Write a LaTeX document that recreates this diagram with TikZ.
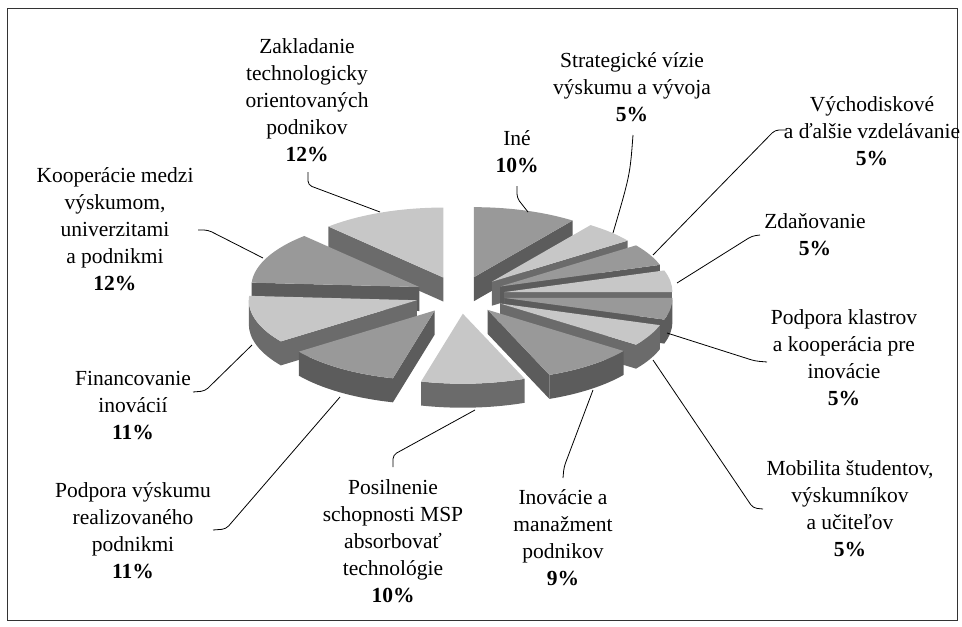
\documentclass[tikz,border=0pt]{standalone}
\usepackage{fontspec}
\setmainfont{Liberation Serif}
\definecolor{topL}{gray}{0.78}
\definecolor{topM}{gray}{0.60}
\definecolor{sideL}{gray}{0.42}
\definecolor{sideM}{gray}{0.36}
\newcommand{\lbl}[1]{\begin{tabular}[t]{@{}c@{}}#1\end{tabular}}
\newcommand{\pieslice}[4]{%
  \pgfmathsetmacro{\mymid}{(#1+#2)/2}%
  \pgfmathsetmacro{\ox}{460+45*sin(\mymid)}%
  \pgfmathsetmacro{\oy}{-295+18.75*cos(\mymid)}%
  \pgfmathsetmacro{\sa}{90-#1}%
  \pgfmathsetmacro{\sb}{90-#2}%
  \pgfmathsetmacro{\va}{max(#1,90)}%
  \pgfmathsetmacro{\vb}{min(#2,270)}%
  \pgfmathsetmacro{\sinA}{sin(#1)}%
  \pgfmathsetmacro{\sinB}{sin(#2)}%
  \ifdim \va pt < \vb pt
    \fill[#4] ({\ox+168*sin(\va)},{\oy+70*cos(\va)})
      arc[start angle={90-\va}, end angle={90-\vb}, x radius=168, y radius=70]
      -- ++(0,-24)
      arc[start angle={90-\vb}, end angle={90-\va}, x radius=168, y radius=70]
      -- cycle;
  \fi
  \ifdim \sinA pt < -0.001pt
    \fill[#4] (\ox,\oy) -- ({\ox+168*sin(#1)},{\oy+70*cos(#1)}) -- ++(0,-24)
      -- ({\ox},{\oy-24}) -- cycle;
  \fi
  \ifdim \sinB pt > 0.001pt
    \fill[#4] (\ox,\oy) -- ({\ox+168*sin(#2)},{\oy+70*cos(#2)}) -- ++(0,-24)
      -- ({\ox},{\oy-24}) -- cycle;
  \fi
  \fill[#3] (\ox,\oy) -- ({\ox+168*sin(#1)},{\oy+70*cos(#1)})
    arc[start angle=\sa, end angle=\sb, x radius=168, y radius=70] -- cycle;
}
\tikzset{
  lab/.style={font=\fontsize{21.5}{27}\selectfont, inner sep=0pt, anchor=base},
  leader/.style={draw=black, line width=0.8pt, rounded corners=4pt}
}
\begin{document}
\begin{tikzpicture}[x=1pt,y=1pt]
\useasboundingbox (0,0) rectangle (962,-627);
\draw[line width=1pt, black!80] (7,-8) rectangle (957,-620);

% pie slices, back to front
\pieslice{0}{36}{topM}{sideM}
\pieslice{316.8}{360}{topL}{sideL}
\pieslice{36}{54}{topL}{sideL}
\pieslice{54}{72}{topM}{sideM}
\pieslice{273.6}{316.8}{topM}{sideM}
\pieslice{72}{90}{topL}{sideL}
\pieslice{90}{108}{topM}{sideM}
\pieslice{234}{273.6}{topL}{sideL}
\pieslice{108}{126}{topL}{sideL}
\pieslice{126}{158.4}{topM}{sideM}
\pieslice{194.4}{234}{topM}{sideM}
\pieslice{158.4}{194.4}{topL}{sideL}

% labels
\node[lab] (lZak) at (307,-53) {\lbl{Zakladanie\\technologicky\\orientovaných\\podnikov\\\textbf{12\%}}};
\node[lab] (lIne) at (517,-145) {\lbl{Iné\\\textbf{10\%}}};
\node[lab] (lStr) at (632,-67) {\lbl{Strategické vízie\\výskumu a vývoja\\\textbf{5\%}}};
\node[lab] (lVych) at (872,-111) {\lbl{Východiskové\\a ďalšie vzdelávanie\\\textbf{5\%}}};
\node[lab] (lZda) at (815,-228) {\lbl{Zdaňovanie\\\textbf{5\%}}};
\node[lab] (lKla) at (844,-324) {\lbl{Podpora klastrov\\a kooperácia pre\\inovácie\\\textbf{5\%}}};
\node[lab] (lMob) at (850,-475) {\lbl{Mobilita študentov,\\výskumníkov\\a učiteľov\\\textbf{5\%}}};
\node[lab] (lInov) at (563,-504) {\lbl{Inovácie a\\manažment\\podnikov\\\textbf{9\%}}};
\node[lab] (lPos) at (393,-494) {\lbl{Posilnenie\\schopnosti MSP\\absorbovať\\technológie\\\textbf{10\%}}};
\node[lab] (lPod) at (133,-497) {\lbl{Podpora výskumu\\realizovaného\\podnikmi\\\textbf{11\%}}};
\node[lab] (lFin) at (133,-385) {\lbl{Financovanie\\inovácií\\\textbf{11\%}}};
\node[lab] (lKoo) at (115,-182) {\lbl{Kooperácie medzi\\výskumom,\\univerzitami\\a podnikmi\\\textbf{12\%}}};

% leader coordinates
\coordinate (zak1) at (308,-172); \coordinate (zak2) at (308,-185); \coordinate (zak3) at (380,-212);
\coordinate (ine1) at (517,-186); \coordinate (ine2) at (517,-198); \coordinate (ine3) at (528,-212);
\coordinate (str1) at (633,-135); \coordinate (str3) at (613,-233);
\coordinate (vy1) at (787,-130); \coordinate (vy2) at (775,-130); \coordinate (vy3) at (653,-255);
\coordinate (zd1) at (760,-235); \coordinate (zd2) at (752,-236); \coordinate (zd3) at (677,-283);
\coordinate (kl1) at (767,-362); \coordinate (kl2) at (755,-361); \coordinate (kl3) at (667,-333);
\coordinate (mo1) at (763,-509); \coordinate (mo2) at (753,-508); \coordinate (mo3) at (653,-360);
\coordinate (in1) at (563,-478); \coordinate (in2) at (564,-467); \coordinate (in3) at (593,-390);
\coordinate (po1) at (393,-467); \coordinate (po2) at (393,-455); \coordinate (po3) at (475,-410);
\coordinate (pv1) at (213,-530); \coordinate (pv2) at (226,-529); \coordinate (pv3) at (340,-397);
\coordinate (fi1) at (193,-392); \coordinate (fi2) at (205,-391); \coordinate (fi3) at (252,-345);
\coordinate (ko1) at (198,-230); \coordinate (ko2) at (208,-230); \coordinate (ko3) at (263,-258);

\draw[leader] (zak1) -- (zak2) -- (zak3);
\draw[leader] (ine1) -- (ine2) -- (ine3);
\draw[leader] (str1) .. controls (630,-175) .. (str3);
\draw[leader] (vy1) -- (vy2) -- (vy3);
\draw[leader] (zd1) -- (zd2) -- (zd3);
\draw[leader] (kl1) -- (kl2) -- (kl3);
\draw[leader] (mo1) -- (mo2) -- (mo3);
\draw[leader] (in1) -- (in2) -- (in3);
\draw[leader] (po1) -- (po2) -- (po3);
\draw[leader] (pv1) -- (pv2) -- (pv3);
\draw[leader] (fi1) -- (fi2) -- (fi3);
\draw[leader] (ko1) -- (ko2) -- (ko3);
\end{tikzpicture}
\end{document}
